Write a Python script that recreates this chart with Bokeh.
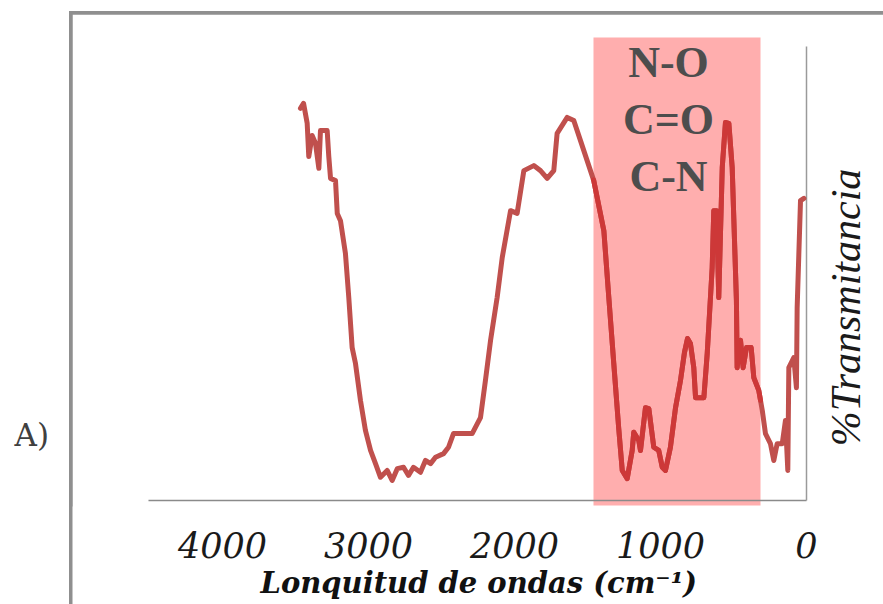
import numpy as np
from bokeh.plotting import figure
from bokeh.models import Range1d, FixedTicker, Label, BoxAnnotation, Title
from bokeh.embed import file_html
from bokeh.resources import INLINE

# ---- data ----
wavenumber = [3466, 3445, 3420, 3409, 3386, 3363, 3340, 3329, 3283, 3272,
              3260, 3226, 3214, 3192, 3158, 3135, 3112, 3089, 3055, 3021,
              2986, 2952, 2918, 2872, 2838, 2803, 2760, 2726, 2692, 2644,
              2610, 2575, 2541, 2486, 2452, 2418, 2358, 2290, 2233, 2199,
              2164, 2119, 2084, 2027, 1982, 1936, 1868, 1822, 1776, 1731,
              1708, 1639, 1594, 1548, 1457, 1388, 1354, 1320, 1286, 1262,
              1228, 1194, 1183, 1149, 1137, 1103, 1080, 1046, 1012, 988,
              966, 932, 897, 863, 836, 815, 795, 772, 760, 703,
              680, 646, 635, 616, 601, 577, 555, 532, 509, 480,
              475, 452, 434, 411, 379, 361, 327, 303, 281, 247,
              224, 201, 166, 144, 128, 121, 87, 69, 64, 41, 18]
transmittance = [86.2, 87.3, 82.9, 75.6, 80.2, 78.5, 73.0, 81.3, 81.3, 75.6,
                 70.8, 70.3, 63.1, 61.5, 54.3, 44.6, 33.6, 30.1, 22.0, 15.4,
                 11.0, 8.1, 5.1, 6.6, 4.4, 7.0, 7.3, 5.5, 7.3, 6.2,
                 8.8, 8.1, 9.5, 10.3, 11.7, 14.7, 14.7, 14.7, 18.2, 26.4,
                 35.2, 44.6, 53.4, 63.7, 63.1, 72.5, 73.6, 72.5, 70.8, 72.5,
                 80.7, 84.2, 83.5, 79.1, 70.3, 59.3, 44.6, 30.1, 15.8, 6.6,
                 4.8, 11.0, 15.0, 13.2, 11.0, 20.4, 20.2, 11.7, 11.0, 7.3,
                 6.6, 11.7, 20.4, 26.4, 32.5, 35.6, 34.5, 29.2, 22.6, 22.6,
                 32.3, 51.2, 63.7, 63.7, 44.6, 73.2, 83.1, 82.9, 73.2, 44.0,
                 29.2, 35.2, 29.2, 33.6, 33.6, 27.0, 24.2, 19.8, 14.7, 12.5,
                 8.8, 12.5, 12.5, 17.6, 6.6, 29.2, 31.4, 24.8, 42.4, 65.9, 66.4]
x_ticks = [4000, 3000, 2000, 1000, 0]
band = [1459, 315]          # highlighted region (cm-1)
band_labels = ["N-O", "C=O", "C-N"]
axis_span = [4507, 0]       # drawn extent of the x axis line

# ---- layout helpers (canvas pixel -> data) ----
def wx(px):
    return (806 - px) / 0.146

def ty(py):
    return (500 - py) / 4.55

W, H = 883, 604
FRAME_BOTTOM = 506
frame_css = {
    "background-image": "linear-gradient(#8f8f8f,#8f8f8f), linear-gradient(#8f8f8f,#8f8f8f)",
    "background-size": "3.5px 600px, 900px 3.5px",
    "background-position": "68.5px 10.5px, 68.5px 10.5px",
    "background-repeat": "no-repeat",
}
p = figure(width=W, height=H, output_backend="svg", toolbar_location=None,
           x_range=Range1d(wx(0), wx(W)), y_range=Range1d(ty(FRAME_BOTTOM), ty(0)),
           y_axis_location=None, x_axis_location="below",
           min_border_left=0, min_border_right=0, min_border_top=0,
           min_border_bottom=H - FRAME_BOTTOM, styles=frame_css)
p.grid.visible = False
p.outline_line_color = None
p.background_fill_color = None
p.border_fill_color = None

ax = p.xaxis[0]
ax.ticker = FixedTicker(ticks=x_ticks)
ax.axis_line_color = None
ax.major_tick_line_color = None
ax.minor_tick_line_color = None
ax.major_tick_out = 0
ax.major_tick_in = 0
ax.major_label_standoff = 25
ax.major_label_text_font = "DejaVu Serif"
ax.major_label_text_font_style = "italic"
ax.major_label_text_font_size = "35px"
ax.major_label_text_color = "#1a1a1a"

p.add_layout(Title(text="Lonquitud de ondas (cm\u207b\u00b9)", align="left", offset=260,
                   standoff=6, text_font="DejaVu Serif", text_font_style="bold italic",
                   text_font_size="29px", text_color="#111111"), "below")

# picture frame lines (left and top) inside the frame
p.add_layout(BoxAnnotation(left=wx(68.5), right=wx(72), top=ty(10.5), bottom=ty(620),
                           fill_color="#8f8f8f", fill_alpha=1, line_color=None))
p.add_layout(BoxAnnotation(left=wx(68.5), right=wx(890), top=ty(10.5), bottom=ty(14),
                           fill_color="#8f8f8f", fill_alpha=1, line_color=None))

# highlighted band
p.quad(left=band[0], right=band[1], bottom=ty(505), top=ty(37),
       fill_color="#FFAEAE", line_color=None)

# axis lines
p.segment(x0=axis_span[0], y0=0, x1=axis_span[1], y1=0, line_color="#8a8a8a", line_width=1.3)
p.segment(x0=0, y0=0, x1=0, y1=ty(46), line_color="#9a9a9a", line_width=1.5)

# spectrum
w = np.array(wavenumber, dtype=float)
t = np.array(transmittance, dtype=float)
p.line(w, t, line_color="#C0504D", line_width=5, line_join="round", line_cap="round")

hi, lo = band
order = np.argsort(w)
mask = (w <= hi) & (w >= lo)
wi = np.concatenate([[hi], w[mask], [lo]])
ti = np.concatenate([[np.interp(hi, w[order], t[order])], t[mask],
                     [np.interp(lo, w[order], t[order])]])
p.line(wi, ti, line_color="#CD3838", line_width=5, line_join="round", line_cap="round")

# band labels
for i, lab in enumerate(band_labels):
    p.add_layout(Label(x=wx(668), y=ty(62 + 57 * i), text=lab,
                       text_align="center", text_baseline="alphabetic",
                       text_font="Liberation Serif", text_font_style="bold",
                       text_font_size="44px", text_color="#4d4d4d"))

# y-axis title (right) and panel tag
p.add_layout(Label(x=wx(845), y=ty(307), text="%Transmitancia", angle=np.pi / 2,
                   text_align="center", text_baseline="alphabetic",
                   text_font="Liberation Serif", text_font_style="italic",
                   text_font_size="42px", text_color="#1a1a1a"))
p.add_layout(Label(x=wx(14), y=ty(434), text="A)", text_align="left",
                   text_baseline="alphabetic", text_font="DejaVu Serif",
                   text_font_size="31px", text_color="#404040"))

open("out.html", "w").write(file_html(p, INLINE, title="IR"))
